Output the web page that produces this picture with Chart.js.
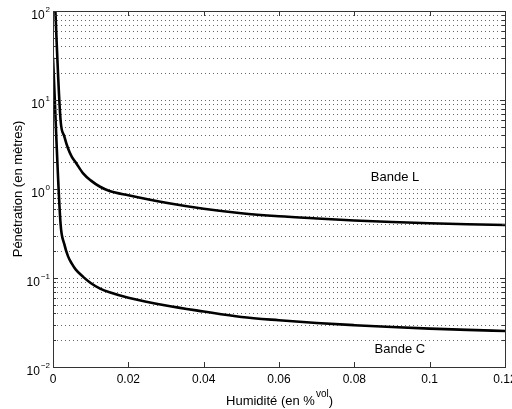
<!DOCTYPE html>
<html>
<head>
<meta charset="utf-8">
<script src="https://cdn.jsdelivr.net/npm/chart.js@4.4.0/dist/chart.umd.min.js"></script>
<style>
  html, body { margin: 0; padding: 0; background: #fff; }
  canvas { display: block; }
</style>
</head>
<body>
<canvas id="penetration" width="512" height="409"></canvas>
<script>
// humidity (volumic fraction) and penetration depth in metres
var humidite = [0, 0.002, 0.003, 0.004, 0.005, 0.006, 0.008, 0.01, 0.0125, 0.015, 0.02, 0.03, 0.04, 0.05, 0.06, 0.07, 0.08, 0.09, 0.1, 0.11, 0.12];
var bandeL = [450, 6.0, 3.9, 2.85, 2.3, 2.0, 1.5, 1.25, 1.06, 0.95, 0.85, 0.70, 0.60, 0.535, 0.495, 0.467, 0.443, 0.425, 0.412, 0.402, 0.394];
var bandeC = [30, 0.41, 0.24, 0.175, 0.145, 0.125, 0.103, 0.088, 0.076, 0.069, 0.060, 0.049, 0.042, 0.0365, 0.0335, 0.0312, 0.0295, 0.0281, 0.0270, 0.0261, 0.0254];

var xTicks = [0, 0.02, 0.04, 0.06, 0.08, 0.1, 0.12];
var xTickLabels = ["0", "0.02", "0.04", "0.06", "0.08", "0.1", "0.12"];
var yExponents = [-2, -1, 0, 1, 2];

// where the two curve names sit, in data units
var labelL = { x: 0.0908, y: 1.36, text: "Bande L" };
var labelC = { x: 0.0921, y: 0.0159, text: "Bande C" };

var FONT = "Liberation Sans, Arial, Helvetica, sans-serif";

function toPoints(xs, ys) {
    return xs.map(function (x, i) { return { x: x, y: ys[i] }; });
}

// grid, frame, ticks and all the text, drawn from the chart's own scales
var matlabAxes = {
    id: "matlabAxes",
    beforeDatasetsDraw: function (chart) {
        var c = chart.ctx, a = chart.chartArea;
        var ys = chart.scales.y;
        c.save();
        // dotted horizontal grid at every log step
        c.strokeStyle = "#666";
        c.lineWidth = 1;
        c.setLineDash([1, 3]);
        yExponents.forEach(function (e) {
            if (e === yExponents[yExponents.length - 1]) return;
            for (var m = 1; m < 10; m++) {
                var py = Math.round(ys.getPixelForValue(m * Math.pow(10, e))) + 0.5;
                c.beginPath();
                c.moveTo(a.left, py);
                c.lineTo(a.right, py);
                c.stroke();
            }
        });
        c.restore();
    },
    afterDatasetsDraw: function (chart) {
        var c = chart.ctx, a = chart.chartArea;
        var xs = chart.scales.x, ys = chart.scales.y;
        c.save();
        c.strokeStyle = "#333";
        c.lineWidth = 1;
        c.setLineDash([]);
        // frame
        c.strokeRect(Math.round(a.left) + 0.5, Math.round(a.top) + 0.5,
            Math.round(a.right - a.left), Math.round(a.bottom - a.top));
        // y tick marks, both sides
        yExponents.forEach(function (e, k) {
            for (var m = 1; m < 10; m++) {
                if (k === yExponents.length - 1 && m > 1) break;
                var py = Math.round(ys.getPixelForValue(m * Math.pow(10, e))) + 0.5;
                var len = m === 1 ? 5 : 3;
                c.beginPath();
                c.moveTo(a.left, py); c.lineTo(a.left + len, py);
                c.moveTo(a.right, py); c.lineTo(a.right - len, py);
                c.stroke();
            }
        });
        // x tick marks, bottom and top
        xTicks.forEach(function (v) {
            var px = Math.round(xs.getPixelForValue(v)) + 0.5;
            c.beginPath();
            c.moveTo(px, a.bottom); c.lineTo(px, a.bottom - 5);
            c.moveTo(px, a.top); c.lineTo(px, a.top + 5);
            c.stroke();
        });

        c.fillStyle = "#000";
        // x tick labels
        c.font = "12px " + FONT;
        c.textAlign = "center";
        c.textBaseline = "alphabetic";
        xTicks.forEach(function (v, i) {
            c.fillText(xTickLabels[i], xs.getPixelForValue(v), a.bottom + 16);
        });
        // y tick labels 10^n
        yExponents.forEach(function (e) {
            var py = ys.getPixelForValue(Math.pow(10, e));
            var sup = e < 0 ? "\u2212" + (-e) : String(e);
            c.font = "8px " + FONT;
            var wSup = c.measureText(sup).width;
            c.font = "12px " + FONT;
            var wBase = c.measureText("10").width;
            var right = a.left - 3;
            c.textAlign = "left";
            c.fillText("10", right - wSup - wBase - 1, py + 8);
            c.font = "8px " + FONT;
            c.fillText(sup, right - wSup, py + 1);
        });
        // x axis title with superscript
        var cx = (a.left + a.right) / 2;
        c.font = "13px " + FONT;
        var t1 = "Humidit\u00e9 (en %", t3 = ")";
        var w1 = c.measureText(t1).width, w3 = c.measureText(t3).width;
        c.font = "10px " + FONT;
        var t2 = "vol", w2 = c.measureText(t2).width;
        var x0 = cx - (w1 + w2 + w3) / 2;
        c.textAlign = "left";
        c.font = "13px " + FONT;
        c.fillText(t1, x0, 405);
        c.fillText(t3, x0 + w1 + w2 + 1, 405);
        c.font = "10px " + FONT;
        c.fillText(t2, x0 + w1 + 1, 397);
        // y axis title
        c.save();
        c.translate(22, (a.top + a.bottom) / 2);
        c.rotate(-Math.PI / 2);
        c.font = "13px " + FONT;
        c.textAlign = "center";
        c.fillText("P\u00e9n\u00e9tration (en m\u00e8tres)", 0, 0);
        c.restore();
        // curve names
        c.font = "13px " + FONT;
        c.textAlign = "center";
        c.textBaseline = "middle";
        [labelL, labelC].forEach(function (l) {
            c.fillText(l.text, xs.getPixelForValue(l.x), ys.getPixelForValue(l.y));
        });
        c.restore();
    }
};

var ctx = document.getElementById("penetration").getContext("2d");

new Chart(ctx, {
    type: "line",
    data: {
        datasets: [
            { label: "Bande L", data: toPoints(humidite, bandeL) },
            { label: "Bande C", data: toPoints(humidite, bandeC) }
        ]
    },
    options: {
        responsive: false,
        animation: false,
        layout: { padding: { left: 53, top: 11, right: 7, bottom: 42 } },
        elements: {
            line: { borderColor: "#000", borderWidth: 2.6, cubicInterpolationMode: "monotone" },
            point: { radius: 0 }
        },
        scales: {
            x: { type: "linear", min: 0, max: 0.12, display: false },
            y: { type: "logarithmic", min: 0.01, max: 100, display: false }
        },
        plugins: {
            legend: { display: false },
            tooltip: { enabled: false }
        }
    },
    plugins: [matlabAxes]
});
</script>
</body>
</html>
